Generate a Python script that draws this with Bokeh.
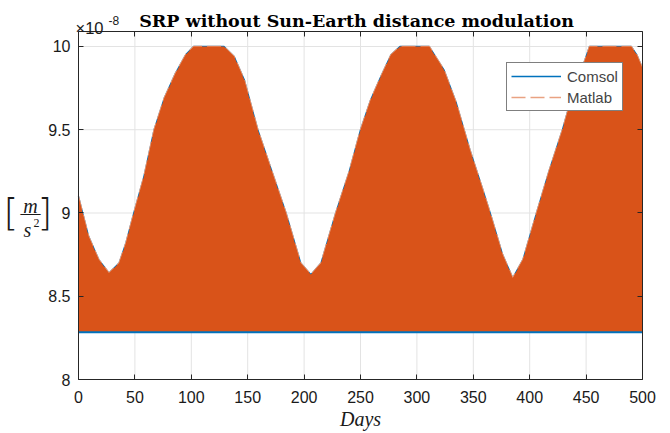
from bokeh.plotting import figure
from bokeh.models import (Range1d, LinearAxis, FixedTicker, CustomJSTickFormatter,
                          Label, Legend, LegendItem, ColumnDataSource)
from bokeh.embed import file_html
from bokeh.resources import INLINE

# ---- data (values in units of 1e-8 m/s^2) ----
days = [0, 9, 18, 27, 36, 42, 49, 58, 67, 76, 86, 95, 102, 116, 129, 138, 147, 159,
        171, 184, 197, 206, 215, 228, 240, 250, 259, 268, 277, 285, 298, 311, 324,
        335, 347, 358, 365, 376, 385, 394, 406, 417, 429, 439, 449, 453, 472, 490,
        495, 500]
upper_envelope = [9.10, 8.86, 8.72, 8.64, 8.70, 8.82, 9.00, 9.22, 9.50, 9.69, 9.84,
                  9.95, 10.0, 10.0, 10.0, 9.94, 9.80, 9.50, 9.26, 9.00, 8.70, 8.63,
                  8.70, 9.00, 9.25, 9.50, 9.68, 9.82, 9.95, 10.0, 10.0, 10.0, 9.86,
                  9.66, 9.38, 9.15, 9.00, 8.75, 8.61, 8.72, 9.00, 9.25, 9.50, 9.74,
                  9.92, 10.0, 10.0, 10.0, 9.95, 9.87]
lower_bound = 8.29
x_ticks = [0, 50, 100, 150, 200, 250, 300, 350, 400, 450, 500]
y_ticks = [8, 8.5, 9, 9.5, 10]
x_lim = (0, 500)
y_lim = (8, 10.09)
series_names = ["Comsol", "Matlab"]

BLUE = "#0072BD"
ORANGE = "#D95319"
AX = "#262626"
GRID = "#E3E3E3"

# ---- layout (pixels): the axes box inside the canvas ----
W, H = 664, 431
BOX_L, BOX_R, BOX_T, BOX_B = 78, 642, 31, 379
sx_per = (BOX_R - BOX_L) / (x_lim[1] - x_lim[0])
sy_per = (BOX_B - BOX_T) / (y_lim[1] - y_lim[0])
x_range = Range1d(x_lim[0] - BOX_L / sx_per, x_lim[1] + (W - BOX_R) / sx_per)
y_range = Range1d(y_lim[0] - (H - BOX_B) / sy_per, y_lim[1] + BOX_T / sy_per)

src = ColumnDataSource(dict(days=days, upper=upper_envelope,
                            lower=[lower_bound] * len(days),
                            lower_b=[lower_bound - 0.012] * len(days)))

p = figure(width=W, height=H, x_range=x_range, y_range=y_range,
           x_axis_type=None, y_axis_type=None, output_backend="svg",
           toolbar_location=None, min_border=0, background_fill_color="white",
           border_fill_color="white")
p.outline_line_color = None
p.xgrid.visible = False
p.ygrid.visible = False

# grid lines (MATLAB-like light grey)
p.segment(x0=x_ticks, x1=x_ticks, y0=[y_lim[0]] * len(x_ticks),
          y1=[y_lim[1]] * len(x_ticks), line_color=GRID, line_width=1)
p.segment(x0=[x_lim[0]] * len(y_ticks), x1=[x_lim[1]] * len(y_ticks),
          y0=y_ticks, y1=y_ticks, line_color=GRID, line_width=1)

# Comsol (blue) underneath
p.varea(x="days", y1="lower_b", y2="upper", source=src, fill_color=BLUE)
r_comsol = p.line(x="days", y="upper", source=src, line_color=BLUE, line_width=1.3)
# Matlab (orange dashed) on top
r_matlab = p.line(x="days", y="upper", source=src, line_color="#E9A282",
                  line_width=1.5, line_dash="14 5")
p.varea(x="days", y1="lower", y2="upper", source=src, fill_color=ORANGE)

fmt = CustomJSTickFormatter(code="return tick.toString();")
blank = CustomJSTickFormatter(code="return '';")


def make_axis(ticks, loc, bounds, show_labels=True):
    ax = LinearAxis(fixed_location=loc, bounds=bounds)
    ax.ticker = FixedTicker(ticks=ticks)
    ax.axis_line_color = AX
    ax.axis_line_width = 1
    ax.major_tick_line_color = AX
    ax.major_tick_in = 5
    ax.major_tick_out = 0
    ax.minor_tick_line_color = None
    ax.major_label_text_font = "Liberation Sans"
    ax.major_label_text_color = "#1a1a1a"
    ax.major_label_text_font_size = "16px"
    ax.formatter = fmt if show_labels else blank
    return ax


xb = make_axis(x_ticks, y_lim[0], x_lim)
xb.major_label_standoff = 11
xb.axis_label = "Days"
xb.axis_label_text_font = "Liberation Serif"
xb.axis_label_text_font_style = "italic"
xb.axis_label_text_font_size = "20px"
xb.axis_label_text_color = "#1a1a1a"
xb.axis_label_standoff = 2
p.add_layout(xb, "below")

yl = make_axis(y_ticks, x_lim[0], y_lim)
yl.major_label_standoff = 8
p.add_layout(yl, "left")

p.add_layout(make_axis(x_ticks, y_lim[1], x_lim, show_labels=False), "above")
p.add_layout(make_axis(y_ticks, x_lim[1], y_lim, show_labels=False), "right")

legend = Legend(items=[LegendItem(label=series_names[0], renderers=[r_comsol]),
                       LegendItem(label=series_names[1], renderers=[r_matlab])],
                location=(506, H - 111), label_text_font="Liberation Sans",
                label_text_font_size="15px", border_line_color="black",
                border_line_width=1, background_fill_alpha=1, glyph_width=50,
                glyph_height=18, label_height=18, spacing=3, padding=4,
                label_standoff=6, margin=0)
p.add_layout(legend)


def lab(text, px, py, size, font="Liberation Sans", style="normal", align="left",
        baseline="alphabetic", color="#1a1a1a"):
    # px, py: pixel position measured from the canvas' top-left corner
    p.add_layout(Label(x=px, y=H - py, x_units="screen", y_units="screen",
                       text=text, text_font=font, text_font_size=size,
                       text_font_style=style, text_align=align,
                       text_baseline=baseline, text_color=color))


# title
lab("SRP without Sun-Earth distance modulation", 356, 20, "17.5px",
    font="DejaVu Serif", style="bold", align="center", color="black")
# exponent
lab("\u00d710", 75, 27, "16.5px")
lab("-8", 108, 19.5, "12px")
# y label [m / s^2]
lab("[", 3, 211.5, "38px", font="DejaVu Sans Light", baseline="middle")
lab("]", 37, 211.5, "38px", font="DejaVu Sans Light", baseline="middle")
lab("m", 30, 205, "20px", font="Liberation Serif", style="italic", align="center")
lab("\u2014", 30, 212.3, "20px", font="Liberation Serif", align="center",
    baseline="middle")
lab("s", 27, 229, "20px", font="Liberation Serif", style="italic", align="center")
lab("2", 33, 222, "12px", font="Liberation Serif")

open("out.html", "w").write(file_html(p, INLINE))
